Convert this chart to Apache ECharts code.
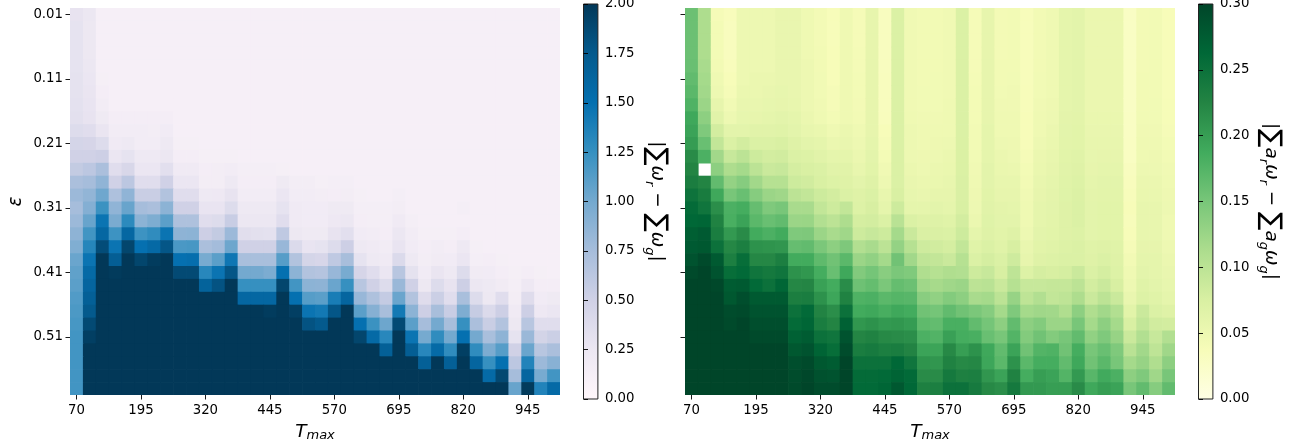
<!DOCTYPE html>
<html><head><meta charset="utf-8">
<style>html,body{margin:0;padding:0;background:#fff}#c{width:1305px;height:446px}</style>
<script src="https://cdn.jsdelivr.net/npm/echarts@6/dist/echarts.min.js"></script>
</head><body><div id="c"></div>
<script>
const tmax=[70,95,120,145,170,195,220,245,270,295,320,345,370,395,420,445,470,495,520,545,570,595,620,645,670,695,720,745,770,795,820,845,870,895,920,945,970,995];
const eps=['0.01','0.03','0.05','0.07','0.09','0.11','0.13','0.15','0.17','0.19','0.21','0.23','0.25','0.27','0.29','0.31','0.33','0.35','0.37','0.39','0.41','0.43','0.45','0.47','0.49','0.51','0.53','0.55','0.57','0.59'];
// left panel: rows (one per epsilon), value x 100
const leftRows=[
[29,25,12,12,12,12,12,12,12,12,12,12,12,12,12,12,12,12,12,12,12,12,12,12,12,12,12,12,12,12,12,12,12,12,12,12,12,12],
[30,24,12,12,12,12,12,12,12,12,12,12,12,12,12,12,12,12,12,12,12,12,12,12,12,12,12,12,12,12,12,12,12,12,12,12,12,12],
[30,24,12,12,12,12,12,12,12,12,12,12,12,12,12,12,12,12,12,12,12,12,12,12,12,12,12,12,12,12,12,12,12,12,12,12,12,12],
[30,24,12,12,12,12,12,12,12,12,12,12,12,12,12,12,12,12,12,12,12,12,12,12,12,12,12,12,12,12,12,12,12,12,12,12,12,12],
[30,25,12,12,12,12,12,12,12,12,12,12,12,12,12,12,12,12,12,12,12,12,12,12,12,12,12,12,12,12,12,12,12,12,12,12,12,12],
[31,26,13,12,12,12,12,12,12,12,12,12,12,12,12,12,12,12,12,12,12,12,12,12,12,12,12,12,12,12,12,12,12,12,12,12,12,12],
[31,27,15,12,12,12,12,12,12,12,12,12,12,12,12,12,12,12,12,12,12,12,12,12,12,12,12,12,12,12,12,12,12,12,12,12,12,12],
[32,28,17,12,12,12,12,12,12,12,12,12,12,12,12,12,12,12,12,12,12,12,12,12,12,12,12,12,12,12,12,12,12,12,12,12,12,12],
[33,29,21,15,15,15,15,15,12,12,12,12,12,12,12,12,12,12,12,12,12,12,12,12,12,12,12,12,12,12,12,12,12,12,12,12,12,12],
[38,36,27,17,17,17,16,18,12,12,12,12,12,12,12,12,12,12,12,12,12,12,12,12,12,12,12,12,12,12,12,12,12,12,12,12,12,12],
[46,45,38,20,22,17,17,22,13,13,12,12,12,12,12,12,12,12,12,12,12,12,12,12,12,12,12,12,12,12,12,12,12,12,12,12,12,12],
[50,50,52,26,30,22,22,25,15,15,13,13,13,12,12,12,12,12,12,12,12,12,12,12,12,12,12,12,12,12,12,12,12,12,12,12,12,12],
[58,62,72,36,43,26,26,34,20,20,15,16,17,14,14,14,13,12,12,12,12,12,12,12,12,12,12,12,12,12,12,12,12,12,12,12,12,12],
[72,75,86,50,62,36,36,50,26,26,16,16,22,15,15,15,21,16,16,13,14,14,12,12,12,12,12,12,12,12,12,12,12,12,12,12,12,12],
[80,85,102,70,86,54,54,68,36,36,22,23,29,17,17,17,26,17,17,16,15,16,13,12,12,14,12,12,12,12,12,12,12,12,12,12,12,12],
[75,92,123,86,105,75,72,88,50,50,28,28,38,22,22,22,30,20,18,18,21,21,14,14,14,16,12,12,12,12,14,12,12,12,12,12,12,12],
[80,105,147,97,130,88,95,110,70,70,36,38,55,25,25,25,36,20,18,18,23,25,15,14,14,20,14,12,12,12,12,12,12,12,12,12,12,12],
[87,120,160,122,160,122,128,147,87,88,52,58,80,35,33,32,60,24,21,21,29,34,18,17,15,25,17,13,13,13,15,12,12,12,12,12,12,12],
[94,133,185,147,190,150,158,178,117,118,72,76,103,50,50,50,82,40,28,30,38,52,22,20,17,28,18,15,17,15,22,13,12,12,12,12,12,12],
[104,147,200,170,200,190,197,200,150,152,98,110,145,73,73,73,112,68,46,44,60,74,30,22,20,40,22,16,19,18,26,14,15,13,12,12,12,12],
[108,157,200,198,200,200,200,200,187,187,132,147,178,100,100,96,150,88,68,66,82,98,45,36,26,64,31,18,27,22,38,19,18,15,13,15,13,12],
[110,162,200,200,200,200,200,200,200,200,165,180,200,125,125,125,190,120,88,87,104,125,64,50,38,81,50,24,38,29,52,25,22,19,14,23,15,15],
[114,168,200,200,200,200,200,200,200,200,200,200,200,160,160,160,200,150,112,110,140,162,82,70,57,104,68,37,53,36,73,38,24,36,16,37,18,21],
[116,175,200,200,200,200,200,200,200,200,200,200,200,200,200,197,200,195,147,143,178,200,110,91,74,143,88,52,74,55,95,56,40,52,20,52,23,26],
[118,187,200,200,200,200,200,200,200,200,200,200,200,200,200,200,200,200,180,175,200,200,150,123,103,187,110,75,100,74,125,72,54,68,24,64,36,36],
[120,195,200,200,200,200,200,200,200,200,200,200,200,200,200,200,200,200,200,200,200,200,190,157,132,200,147,99,128,100,150,100,73,87,30,81,47,53],
[120,200,200,200,200,200,200,200,200,200,200,200,200,200,200,200,200,200,200,200,200,200,200,200,168,200,170,132,157,128,195,128,96,112,50,104,64,72],
[120,200,200,200,200,200,200,200,200,200,200,200,200,200,200,200,200,200,200,200,200,200,200,200,200,200,200,168,200,168,200,162,125,150,62,135,80,90],
[120,200,200,200,200,200,200,200,200,200,200,200,200,200,200,200,200,200,200,200,200,200,200,200,200,200,200,200,200,200,200,200,157,188,75,162,98,120],
[120,200,200,200,200,200,200,200,200,200,200,200,200,200,200,200,200,200,200,200,200,200,200,200,200,200,200,200,200,200,200,200,200,200,105,198,135,157]
];
// right panel: columns (one per Tmax), value x 1000; null = missing cell
const rightCols=[
[158,158,158,158,160,165,170,178,190,195,202,218,225,234,248,258,262,272,277,285,295,300,300,300,300,300,300,300,300,300],
[112,112,112,112,115,118,120,125,135,145,160,180,null,225,236,245,265,277,280,295,300,300,300,300,300,300,300,300,300,300],
[40,42,42,42,44,48,50,58,65,80,95,120,135,165,190,215,228,235,250,278,285,297,300,300,300,300,300,300,300,300],
[35,33,33,33,35,38,40,45,50,62,72,90,112,130,150,180,182,205,222,232,255,275,280,292,295,300,300,300,300,300],
[50,50,50,50,50,50,52,55,57,62,80,100,118,140,160,185,195,218,232,255,260,278,290,295,300,300,300,300,300,300],
[50,50,50,50,50,52,52,55,58,65,72,85,100,120,140,162,170,187,212,222,245,260,278,285,290,295,300,300,300,300],
[50,50,50,50,50,52,55,57,60,65,72,80,88,105,125,145,160,180,210,222,240,250,278,285,290,295,300,300,300,300],
[55,55,55,55,55,55,57,58,62,66,75,82,90,105,122,150,165,187,208,232,245,265,278,285,290,295,300,300,300,300],
[55,55,55,55,55,55,55,56,60,62,68,72,78,85,100,115,125,145,162,187,212,222,233,250,258,270,280,290,293,295],
[47,47,48,48,50,50,50,50,52,56,62,70,75,82,95,115,126,146,165,187,207,224,235,260,265,275,285,295,298,300],
[43,43,43,44,44,45,45,46,48,54,60,65,72,75,85,95,108,125,148,167,185,197,212,226,235,250,267,280,287,293],
[37,37,37,38,38,38,40,40,42,48,52,60,65,70,80,85,100,115,135,155,160,186,192,215,225,245,255,275,285,293],
[47,47,47,47,47,47,47,47,48,52,55,60,65,68,72,95,112,122,146,170,190,217,228,250,270,285,292,300,300,300],
[40,40,40,41,41,42,42,43,44,48,50,52,56,62,68,70,78,85,108,125,143,157,178,187,207,224,235,250,258,260],
[58,58,58,58,58,58,58,58,58,58,60,62,64,68,72,76,80,90,115,132,152,163,180,190,212,228,238,250,258,260],
[32,32,32,32,32,33,33,33,34,38,40,42,46,50,56,60,72,85,100,118,138,148,170,183,205,220,232,250,260,265],
[72,72,72,72,72,72,72,72,72,72,72,72,72,72,75,85,102,118,130,155,148,163,174,190,207,218,235,262,267,280],
[46,46,46,46,46,46,46,46,47,50,50,50,52,55,57,60,72,88,105,120,144,158,172,186,202,215,226,245,260,262],
[44,44,44,44,44,44,45,45,46,48,48,49,50,52,55,60,68,74,84,96,110,122,138,155,167,180,195,210,218,230],
[44,44,44,44,44,45,45,45,46,48,49,50,52,54,58,62,69,74,82,94,105,117,132,152,164,176,194,208,218,232],
[46,46,46,46,46,46,46,47,47,48,50,52,54,56,58,60,66,72,78,88,110,122,142,165,182,198,220,228,240,250],
[72,72,72,72,72,72,72,72,72,72,73,73,73,74,74,75,80,85,95,105,108,125,135,155,182,185,200,220,230,250],
[40,40,40,40,40,41,42,42,42,44,44,45,46,48,49,50,52,60,66,72,85,100,115,148,165,182,212,222,232,238],
[58,58,58,58,58,58,58,58,58,60,60,60,62,62,64,65,67,68,72,78,90,102,118,140,152,160,190,192,208,220],
[43,43,43,43,44,44,45,46,47,48,50,52,54,56,58,61,62,64,66,72,76,88,100,118,135,150,165,170,195,215],
[44,44,44,44,44,45,46,46,47,48,49,50,52,56,58,60,62,68,76,84,98,105,128,145,165,175,195,212,228,240],
[36,36,36,36,36,36,37,37,38,38,38,40,42,44,46,47,48,50,55,58,70,90,98,118,135,142,155,170,185,205],
[44,44,44,44,44,45,45,46,47,48,50,52,54,56,58,60,60,62,64,68,78,90,108,122,142,155,175,185,200,205],
[47,47,47,47,48,48,48,49,50,52,54,56,58,60,61,62,63,64,66,70,76,92,95,120,125,142,178,185,195,200],
[60,60,60,60,60,60,60,60,61,62,63,64,65,66,67,68,68,68,70,72,78,92,98,110,125,150,155,165,175,200],
[62,62,62,62,62,62,62,62,63,64,64,66,68,70,71,72,72,70,72,72,88,100,112,135,150,165,185,190,205,218],
[52,52,52,52,52,52,53,53,54,55,56,57,58,60,61,62,62,62,66,68,72,80,88,110,118,132,150,155,172,190],
[52,52,52,52,52,52,53,53,54,55,56,58,60,62,63,64,64,64,68,72,78,88,100,120,135,145,160,170,188,200],
[52,52,52,52,52,52,53,53,54,55,56,58,60,62,63,64,64,64,66,68,70,76,88,108,118,128,145,150,180,195],
[28,28,28,28,28,28,28,28,29,29,30,30,32,34,36,38,36,38,40,44,48,50,55,64,75,88,102,118,135,150],
[43,43,43,43,43,44,44,44,45,46,47,48,50,52,54,56,56,56,58,60,62,66,70,88,95,108,120,128,145,165],
[44,44,44,44,44,44,44,45,45,46,47,49,50,52,54,56,56,56,58,60,60,62,66,72,82,90,98,110,122,140],
[38,38,38,38,38,38,38,39,39,40,42,44,46,48,49,50,48,48,50,52,55,57,60,68,80,108,122,135,150,165]
];
const PuBu=['#fff7fb','#ece7f2','#d0d1e6','#a6bddb','#74a9cf','#3690c0','#0570b0','#045a8d','#023858'];
const YlGn=['#ffffe5','#f7fcb9','#d9f0a3','#addd8e','#78c679','#41ab5d','#238443','#006837','#004529'];

const leftData=[];
leftRows.forEach((r,y)=>r.forEach((v,x)=>leftData.push([x,y,v/100])));
const rightData=[];
rightCols.forEach((c,x)=>c.forEach((v,y)=>{if(v!==null)rightData.push([x,y,v/1000]);}));

const F='"DejaVu Sans"';
const tickStyle={color:'#000',fontFamily:F,fontSize:13.3};
const nameRich={
  i:{fontFamily:F,fontStyle:'italic',fontSize:18.5,color:'#000'},
  sub:{fontFamily:F,fontStyle:'italic',fontSize:13,color:'#000',verticalAlign:'bottom',padding:[7,0,0,0]},
  S:{fontFamily:F,fontSize:27,color:'#000'},
  t:{fontFamily:F,fontSize:18.5,color:'#000'},
  w:{fontFamily:F,fontStyle:'italic',fontSize:18.5,color:'#000'}
};
const nameT='{i|T}{sub|max}';
function ramp(colors){
  return new echarts.graphic.LinearGradient(0,1,0,0,colors.map((c,i)=>({offset:i/(colors.length-1),color:c})));
}
// each cell runs slightly under its right and lower neighbours (drawn later), so no seam shows
function cell(params,api){
  const i=api.value(0),j=api.value(1);
  const p=api.coord([i,j]);
  const s=api.size([1,1]);
  const ox=i<tmax.length-1?0.7:0, oy=j<eps.length-1?0.7:0;
  return {type:'rect',shape:{x:p[0]-s[0]/2,y:p[1]-s[1]/2,width:s[0]+ox,height:s[1]+oy},
    style:{fill:api.visual('color')}};
}
function xAx(g){return{gridIndex:g,type:'category',data:tmax,position:'bottom',
  axisLine:{show:false},axisTick:{show:true,alignWithLabel:true,interval:4,length:4.5,lineStyle:{color:'#000',width:0.9}},
  axisLabel:{...tickStyle,interval:4,margin:9},splitLine:{show:false},
  name:nameT,nameLocation:'middle',nameGap:27,nameTextStyle:{rich:nameRich}};}
function yAx(g,labels){return{gridIndex:g,type:'category',data:eps,inverse:true,
  axisLine:{show:false},axisTick:{show:true,alignWithLabel:true,interval:4,length:4.5,lineStyle:{color:'#000',width:0.9}},
  axisLabel:{...tickStyle,show:labels,interval:4,margin:7},splitLine:{show:false},
  name:labels?'{i|\u03b5}':'',nameLocation:'middle',nameGap:44,nameRotate:90,nameTextStyle:{rich:nameRich}};}
function barX(g){return{gridIndex:g,type:'value',min:0,max:1,show:false};}
function barY(g,max,interval,name,gap){return{gridIndex:g,type:'value',min:0,max:max,interval:interval,position:'right',
  axisLine:{show:false},axisTick:{show:true,length:4.5,lineStyle:{color:'#000',width:0.9}},
  axisLabel:{...tickStyle,margin:7,formatter:v=>v.toFixed(2)},splitLine:{show:false},
  name:name,nameLocation:'middle',nameGap:gap,nameRotate:-90,nameTextStyle:{rich:nameRich}};}
const labelL='{t||}{S|\u2211}{w|\u03c9}{sub|r}{t| \u2212 }{S|\u2211}{w|\u03c9}{sub|g}{t||}';
const labelR='{t||}{S|\u2211}{w|a}{sub|r}{w|\u03c9}{sub|r}{t| \u2212 }{S|\u2211}{w|a}{sub|g}{w|\u03c9}{sub|g}{t||}';

const chart=echarts.init(document.getElementById('c'),null,{renderer:'canvas'});
chart.setOption({
  animation:false,backgroundColor:'#fff',
  grid:[
    {left:70,top:8,width:490,height:387,outerBoundsMode:'none'},
    {left:685,top:8,width:490,height:387,outerBoundsMode:'none'},
    {left:583.5,top:4,width:14.4,height:395,outerBoundsMode:'none',show:true,backgroundColor:ramp(PuBu),borderColor:'#222',borderWidth:1},
    {left:1198.5,top:4,width:14.4,height:395,outerBoundsMode:'none',show:true,backgroundColor:ramp(YlGn),borderColor:'#222',borderWidth:1}
  ],
  xAxis:[xAx(0),xAx(1),barX(2),barX(3)],
  yAxis:[yAx(0,true),yAx(1,false),
    barY(2,2,0.25,labelL,45),barY(3,0.3,0.05,labelR,44)],
  visualMap:[
    {type:'continuous',show:false,seriesIndex:0,dimension:2,min:0,max:2,inRange:{color:PuBu}},
    {type:'continuous',show:false,seriesIndex:1,dimension:2,min:0,max:0.3,inRange:{color:YlGn}}
  ],
  series:[
    {type:'custom',name:'sum weight gap',xAxisIndex:0,yAxisIndex:0,data:leftData,renderItem:cell,encode:{x:0,y:1},progressive:0,silent:true},
    {type:'custom',name:'weighted sum gap',xAxisIndex:1,yAxisIndex:1,data:rightData,renderItem:cell,encode:{x:0,y:1},progressive:0,silent:true}
  ]
});
</script></body></html>
